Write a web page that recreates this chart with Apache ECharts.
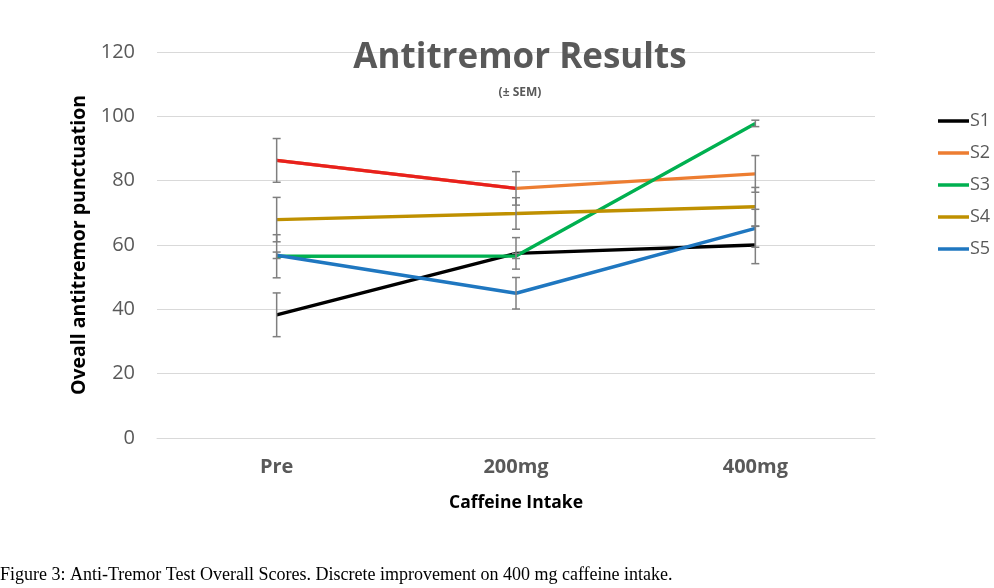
<!DOCTYPE html>
<html><head><meta charset="utf-8">
<script src="https://cdn.jsdelivr.net/npm/echarts@6/dist/echarts.min.js"></script>
<style>html,body{margin:0;padding:0;background:#fff}#c{width:994px;height:588px}</style>
</head><body><div id="c"></div>
<script>
const categories = ['Pre', '200mg', '400mg'];
const seriesNames = ['S1', 'S2', 'S3', 'S4', 'S5'];
const S1 = [38.3, 57.4, 60.0];
const S2 = [86.3, 77.6, 82.1];
const S3 = [56.5, 56.6, 97.8];
const S4 = [67.9, 69.8, 71.9];
const S5 = [56.8, 45.0, 65.2];
const S1err = [6.8, 4.9, 5.8];
const S2err = [6.8, 5.2, 5.7];
const S3err = [6.7, 0.8, 1.0];
const S4err = [6.9, 4.9, 6.0];
const S5err = [1.0, 4.9, 5.9];
const yTicks = [0, 20, 40, 60, 80, 100, 120];

const values = [S1, S2, S3, S4, S5];
const errs = [S1err, S2err, S3err, S4err, S5err];
const colors = ['#000000', '#ED7D31', '#00B050', '#BF9000', '#1F77C0'];
const firstSegColor = '#E8201E';

const chart = echarts.init(document.getElementById('c'));
const series = [];
values.forEach((v, i) => {
  series.push({
    name: seriesNames[i], type: 'line', data: v, symbol: 'none',
    lineStyle: { width: 3.4, color: colors[i] }, itemStyle: { color: colors[i] }, z: 3
  });
});
// first segment of S2 drawn in red
series.push({
  name: 'S2seg', type: 'line', data: [S2[0], S2[1], null], symbol: 'none',
  lineStyle: { width: 3.4, color: firstSegColor }, z: 3
});
// error bars
const errData = [];
values.forEach((v, i) => v.forEach((y, j) => errData.push([j, y - errs[i][j], y + errs[i][j]])));
series.push({
  type: 'custom', z: 4, silent: true,
  data: errData,
  renderItem: function (params, api) {
    const x = api.value(0);
    const lo = api.coord([x, api.value(1)]);
    const hi = api.coord([x, api.value(2)]);
    const w = 4;
    const st = { stroke: '#7F7F7F', lineWidth: 1.5 };
    return { type: 'group', children: [
      { type: 'line', shape: { x1: lo[0], y1: lo[1], x2: hi[0], y2: hi[1] }, style: st },
      { type: 'line', shape: { x1: lo[0] - w, y1: lo[1], x2: lo[0] + w, y2: lo[1] }, style: st },
      { type: 'line', shape: { x1: hi[0] - w, y1: hi[1], x2: hi[0] + w, y2: hi[1] }, style: st }
    ]};
  }
});

chart.setOption({
  animation: false,
  backgroundColor: '#ffffff',
  title: [
    { text: 'Antitremor Results', left: 515, top: 36, textAlign: 'center',
      textStyle: { fontFamily: 'Open Sans', fontSize: 35, fontWeight: 'bold', color: '#595959' } },
    { text: '(± SEM)', left: 515, top: 82, textAlign: 'center',
      textStyle: { fontFamily: 'Open Sans', fontSize: 12, fontWeight: 'bold', color: '#595959' } }
  ],
  legend: {
    data: seriesNames, orient: 'vertical', left: 933, top: 105,
    icon: 'rect', itemWidth: 31, itemHeight: 3.5, itemGap: 10,
    textStyle: { fontFamily: 'Open Sans', fontSize: 18, color: '#595959', padding: [0, 0, 0, -4], lineHeight: 22 }
  },
  grid: { left: 157, right: 119, top: 52, bottom: 150 },
  xAxis: {
    type: 'category', data: categories, boundaryGap: true,
    axisLine: { show: true, lineStyle: { color: '#D9D9D9' } }, axisTick: { show: false },
    axisLabel: { margin: 19, fontFamily: 'Open Sans', fontSize: 20, fontWeight: 'bold', color: '#595959' },
    name: 'Caffeine Intake', nameLocation: 'middle', nameGap: 56,
    nameTextStyle: { fontFamily: 'Open Sans', fontSize: 17.5, fontWeight: 'bold', color: '#000' }
  },
  yAxis: {
    type: 'value', min: yTicks[0], max: yTicks[yTicks.length - 1], interval: 20,
    axisLine: { show: false }, axisTick: { show: false },
    splitLine: { lineStyle: { color: '#D9D9D9', width: 1 } },
    axisLabel: { margin: 22, fontFamily: 'Open Sans', fontSize: 20, color: '#595959' },
    name: 'Oveall antitremor punctuation', nameLocation: 'middle', nameGap: 68,
    nameTextStyle: { fontFamily: 'Open Sans', fontSize: 19.5, fontWeight: 'bold', color: '#000' }
  },
  graphic: [{
    type: 'text', left: 0, top: 566,
    style: { text: 'Figure 3: Anti-Tremor Test Overall Scores. Discrete improvement on 400 mg caffeine intake.',
      font: '18px "Liberation Serif", serif', fill: '#000' }
  }],
  series: series
});
</script></body></html>
